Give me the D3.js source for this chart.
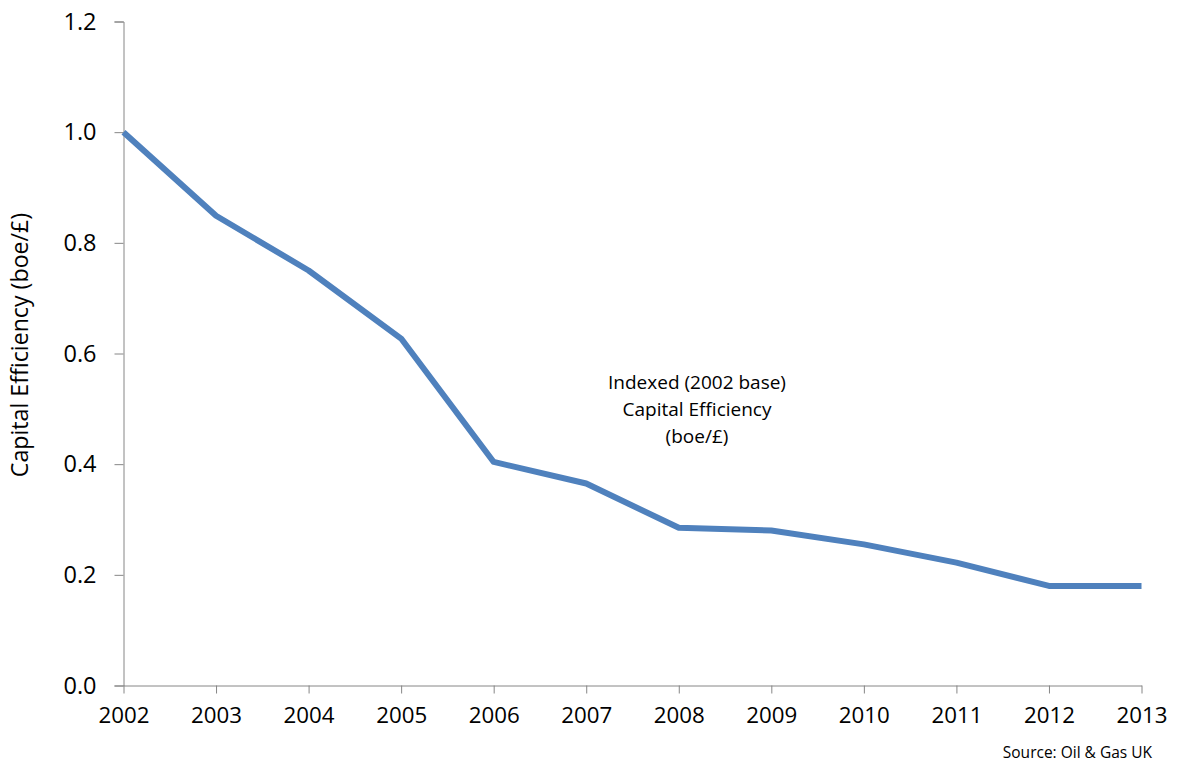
<!DOCTYPE html>
<html>
<head>
<meta charset="utf-8">
<script src="https://cdn.jsdelivr.net/npm/d3@7"></script>
<style>
  html, body { margin: 0; padding: 0; background: #fff; }
  svg { display: block; }
  svg text { font-family: "Open Sans", "Noto Sans", sans-serif; fill: #000; }
</style>
</head>
<body>
<svg id="chart" width="1177" height="765"></svg>
<script>
// Indexed capital efficiency, 2002 = 1.0
const years = [2002, 2003, 2004, 2005, 2006, 2007, 2008, 2009, 2010, 2011, 2012, 2013];
const efficiency = [1.0, 0.849, 0.75, 0.627, 0.404, 0.365, 0.285, 0.280, 0.255, 0.222, 0.180, 0.180];
const yTicks = [0.0, 0.2, 0.4, 0.6, 0.8, 1.0, 1.2];
const annotationLines = ["Indexed (2002 base)", "Capital Efficiency", "(boe/£)"];

const svg = d3.select("#chart");
const margin = { left: 123.5, right: 1141.5, top: 21.5, bottom: 685.5 };

const x = d3.scalePoint().domain(years).range([margin.left, margin.right]);
const y = d3.scaleLinear().domain([0, 1.2]).range([margin.bottom, margin.top]);

const axisColor = "#868686";

// y axis
const yAxis = svg.append("g")
  .attr("transform", `translate(${margin.left},0)`)
  .call(d3.axisLeft(y).tickValues(yTicks).tickFormat(d3.format(".1f")).tickSize(9).tickPadding(18));
yAxis.attr("font-family", null);
yAxis.selectAll("line, path").attr("stroke", axisColor);
yAxis.selectAll("text").attr("font-size", 23.5);

// x axis
const xAxis = svg.append("g")
  .attr("transform", `translate(0,${margin.bottom})`)
  .call(d3.axisBottom(x).tickSize(8).tickPadding(14).tickSizeOuter(0));
xAxis.attr("font-family", null);
xAxis.selectAll("line, path").attr("stroke", axisColor);
xAxis.selectAll("text").attr("font-size", 22.3);

// y axis title
svg.append("text")
  .attr("transform", "translate(28,345) rotate(-90)")
  .attr("text-anchor", "middle")
  .attr("font-size", 23.2)
  .text("Capital Efficiency (boe/£)");

// series line
const line = d3.line()
  .x((d, i) => x(years[i]))
  .y(d => y(d));
svg.append("path")
  .datum(efficiency)
  .attr("fill", "none")
  .attr("stroke", "#4F81BD")
  .attr("stroke-width", 6)
  .attr("stroke-linejoin", "round")
  .attr("d", line);

// annotation
const ann = svg.append("text")
  .attr("text-anchor", "middle")
  .attr("font-size", 19);
annotationLines.forEach((t, i) => {
  ann.append("tspan").attr("x", 697).attr("y", 389 + i * 27).text(t);
});

// source note
svg.append("text")
  .attr("x", 1152)
  .attr("y", 758)
  .attr("text-anchor", "end")
  .attr("font-size", 15.5)
  .text("Source: Oil & Gas UK");
</script>
</body>
</html>
